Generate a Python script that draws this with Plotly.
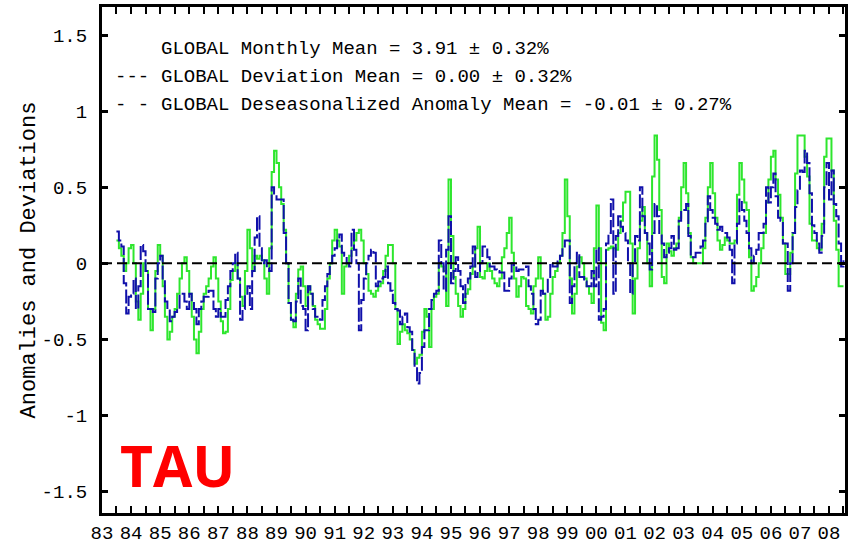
import pandas as pd
import plotly.graph_objects as go

# ---- data (monthly, Jul 1983 .. Jul 2008) ----
start_month = "1983-07-01"

g1983 = [0.15, 0.10, 0.05, -0.05, 0.00, 0.10]
g1984 = [0.12, 0.00, -0.25, -0.37, -0.20, 0.00, -0.05, -0.30, -0.44, -0.30, -0.05, 0.12]
g1985 = [0.05, -0.15, -0.35, -0.50, -0.45, -0.35, -0.30, -0.20, -0.10, 0.00, 0.04, -0.05]
g1986 = [-0.20, -0.35, -0.50, -0.59, -0.45, -0.30, -0.20, -0.15, -0.10, -0.02, 0.04, -0.10]
g1987 = [-0.25, -0.38, -0.46, -0.45, -0.30, -0.11, -0.05, 0.00, -0.10, -0.22, -0.28, -0.05]
g1988 = [0.22, 0.10, -0.05, 0.05, 0.03, 0.05, 0.02, -0.10, -0.20, 0.10, 0.60, 0.74]
g1989 = [0.66, 0.50, 0.39, 0.22, 0.00, -0.26, -0.37, -0.42, -0.20, -0.04, -0.02, -0.15]
g1990 = [-0.28, -0.15, -0.20, -0.28, -0.37, -0.40, -0.43, -0.43, -0.30, -0.10, 0.00, 0.15]
g1991 = [0.22, 0.15, 0.11, -0.20, -0.02, 0.00, 0.05, 0.10, 0.15, 0.20, 0.22, 0.15]
g1992 = [0.00, -0.07, -0.18, -0.20, -0.22, -0.18, -0.15, -0.13, -0.05, 0.05, 0.12, 0.12]
g1993 = [0.00, -0.30, -0.53, -0.45, -0.40, -0.44, -0.46, -0.50, -0.57, -0.66, -0.62, -0.60]
g1994 = [-0.45, -0.30, -0.35, -0.55, -0.30, -0.22, -0.20, 0.00, -0.02, -0.05, -0.28, 0.55]
g1995 = [0.18, -0.09, -0.20, -0.28, -0.35, -0.30, -0.20, -0.17, -0.07, -0.02, 0.10, 0.24]
g1996 = [-0.09, -0.10, -0.05, 0.00, -0.05, -0.10, -0.13, -0.15, -0.10, 0.04, 0.10, 0.20]
g1997 = [0.30, 0.07, -0.10, -0.22, -0.15, -0.09, -0.10, -0.28, -0.30, -0.33, -0.15, -0.10]
g1998 = [0.04, -0.10, -0.20, -0.37, -0.35, -0.20, -0.09, -0.05, 0.00, 0.05, 0.20, 0.55]
g1999 = [0.31, -0.10, -0.33, -0.20, -0.02, 0.04, 0.00, -0.10, -0.15, -0.20, -0.26, 0.10]
g2000 = [0.38, 0.10, -0.39, -0.44, 0.09, 0.10, 0.11, 0.10, 0.09, 0.20, 0.28, 0.40]
g2001 = [0.47, 0.47, 0.13, -0.33, -0.10, 0.10, 0.28, 0.37, 0.20, 0.00, -0.15, 0.57]
g2002 = [0.84, 0.68, 0.35, -0.09, -0.13, 0.13, 0.08, 0.05, 0.10, 0.13, 0.30, 0.50]
g2003 = [0.66, 0.46, 0.20, 0.04, 0.00, 0.00, 0.00, 0.00, 0.10, 0.30, 0.50, 0.66]
g2004 = [0.46, 0.30, 0.15, 0.09, 0.12, 0.17, 0.15, 0.13, 0.13, 0.15, 0.45, 0.66]
g2005 = [0.55, 0.40, 0.35, 0.04, -0.18, -0.15, -0.09, 0.00, 0.10, 0.20, 0.40, 0.55]
g2006 = [0.70, 0.74, 0.55, 0.45, 0.30, 0.13, -0.07, -0.07, 0.07, 0.20, 0.59, 0.84]
g2007 = [0.84, 0.84, 0.70, 0.57, 0.26, 0.15, 0.15, 0.10, 0.09, 0.26, 0.70, 0.82]
g2008 = [0.82, 0.61, 0.28, 0.09, -0.15, -0.15, -0.15]

b1983 = [0.21, 0.15, 0.11, -0.13, -0.33, -0.22]
b1984 = [-0.20, -0.10, -0.30, -0.15, 0.12, 0.08, -0.05, -0.30, -0.30, -0.32, -0.10, 0.00]
b1985 = [0.05, -0.10, -0.25, -0.30, -0.38, -0.35, -0.32, -0.30, -0.20, -0.20, -0.25, -0.30]
b1986 = [-0.20, -0.25, -0.30, -0.40, -0.30, -0.25, -0.22, -0.22, -0.18, -0.18, -0.30, -0.35]
b1987 = [-0.30, -0.35, -0.35, -0.24, -0.15, -0.05, 0.00, 0.07, -0.10, -0.37, -0.30, -0.20]
b1988 = [-0.15, -0.30, -0.05, 0.17, 0.31, 0.10, 0.00, 0.02, -0.03, -0.05, 0.50, 0.45]
b1989 = [0.42, 0.42, 0.42, 0.20, 0.00, -0.26, -0.37, -0.38, -0.25, -0.10, -0.28, -0.30]
b1990 = [-0.44, -0.15, -0.20, -0.30, -0.35, -0.35, -0.37, -0.24, -0.15, -0.07, 0.00, 0.05]
b1991 = [0.10, 0.15, 0.19, 0.07, 0.05, 0.00, -0.02, 0.22, 0.09, 0.00, -0.44, -0.24]
b1992 = [-0.10, 0.00, 0.05, 0.09, 0.07, -0.15, -0.12, -0.10, -0.09, -0.02, -0.13, -0.18]
b1993 = [-0.26, -0.30, -0.31, -0.40, -0.35, -0.33, -0.42, -0.45, -0.57, -0.68, -0.79, -0.72]
b1994 = [-0.55, -0.44, -0.44, -0.30, -0.24, -0.20, -0.18, 0.15, 0.00, -0.18, 0.09, 0.31]
b1995 = [-0.13, -0.05, 0.04, -0.05, -0.15, -0.26, -0.13, -0.10, -0.02, 0.11, -0.09, -0.05]
b1996 = [0.00, 0.11, 0.11, 0.04, -0.02, -0.02, -0.04, -0.05, -0.06, -0.06, -0.18, -0.18]
b1997 = [-0.10, 0.00, -0.02, -0.05, -0.04, -0.04, -0.04, -0.02, -0.15, -0.20, -0.30, -0.40]
b1998 = [-0.37, -0.18, -0.20, -0.20, -0.10, 0.00, -0.02, -0.02, 0.02, 0.05, 0.11, 0.15]
b1999 = [0.15, -0.26, -0.15, 0.00, 0.07, -0.09, -0.09, -0.12, -0.15, -0.15, -0.05, -0.15]
b2000 = [0.10, -0.37, -0.35, -0.30, 0.13, 0.20, 0.42, -0.20, 0.18, 0.31, 0.24, 0.20]
b2001 = [0.15, 0.00, -0.20, 0.00, 0.18, 0.15, 0.50, 0.31, 0.20, 0.13, -0.04, 0.20]
b2002 = [0.39, 0.31, 0.20, 0.13, 0.04, 0.07, 0.10, 0.18, 0.09, 0.10, 0.28, 0.35]
b2003 = [0.35, 0.39, 0.18, 0.04, 0.04, 0.07, 0.07, 0.11, 0.15, 0.26, 0.44, 0.35]
b2004 = [0.30, 0.26, 0.22, 0.24, 0.20, 0.20, 0.17, 0.09, -0.13, 0.13, 0.26, 0.42]
b2005 = [0.35, 0.28, 0.20, 0.10, 0.00, 0.05, 0.09, 0.20, 0.20, 0.26, 0.50, 0.40]
b2006 = [0.50, 0.59, 0.44, 0.30, 0.28, 0.13, 0.13, -0.18, 0.00, 0.20, 0.37, 0.48]
b2007 = [0.61, 0.60, 0.74, 0.66, 0.46, 0.25, 0.20, 0.13, 0.07, 0.18, 0.50, 0.66]
b2008 = [0.42, 0.61, 0.39, 0.31, 0.13, -0.02, 0.02]

deviation = (g1983 + g1984 + g1985 + g1986 + g1987 + g1988 + g1989 + g1990 + g1991
             + g1992 + g1993 + g1994 + g1995 + g1996 + g1997 + g1998 + g1999 + g2000
             + g2001 + g2002 + g2003 + g2004 + g2005 + g2006 + g2007 + g2008)
deseasonalized = (b1983 + b1984 + b1985 + b1986 + b1987 + b1988 + b1989 + b1990 + b1991
                  + b1992 + b1993 + b1994 + b1995 + b1996 + b1997 + b1998 + b1999 + b2000
                  + b2001 + b2002 + b2003 + b2004 + b2005 + b2006 + b2007 + b2008)

months = pd.date_range(start_month, periods=len(deviation), freq="MS")

legend_lines = [
    "GLOBAL Monthly Mean = 3.91 ± 0.32%",
    "GLOBAL Deviation Mean = 0.00 ± 0.32%",
    "GLOBAL Deseasonalized Anomaly Mean = -0.01 ± 0.27%",
]
legend_marks = ["", "---", "- -"]
y_tickvals = [-1.5, -1, -0.5, 0, 0.5, 1, 1.5]
y_ticktext = ["-1.5", "-1", "-0.5", "0", "0.5", "1", "1.5"]
x_range = ["1983-01-01", "2008-07-20"]
y_range = [-1.64, 1.684]
zero_level = 0

MONO = "Liberation Mono"

fig = go.Figure()
fig.add_trace(go.Scatter(
    x=months, y=deviation, mode="lines", line=dict(color="#2ee62e", width=2, shape="hv"),
    name="GLOBAL Deviation", showlegend=False, hoverinfo="skip"))
fig.add_trace(go.Scatter(
    x=months, y=deseasonalized, mode="lines",
    line=dict(color="#1010aa", width=2, shape="hv", dash="14px,3px"),
    name="GLOBAL Deseasonalized Anomaly", showlegend=False, hoverinfo="skip"))

fig.add_hline(y=zero_level, line=dict(color="black", width=2, dash="10px,5px"))

line_y = [0.917, 0.862, 0.806]
for txt, mark, yy in zip(legend_lines, legend_marks, line_y):
    fig.add_annotation(x=0.077, y=yy, xref="paper", yref="paper", text=txt, showarrow=False,
                       xanchor="left", yanchor="middle", font=dict(family=MONO, size=19, color="black"))
    if mark:
        fig.add_annotation(x=0.0154, y=yy, xref="paper", yref="paper", text=mark, showarrow=False,
                           xanchor="left", yanchor="middle", font=dict(family=MONO, size=19, color="black"))

fig.add_annotation(x=0.1014, y=0.095, xref="paper", yref="paper", text="<b>TAU</b>", showarrow=False,
                   xanchor="center", yanchor="middle",
                   font=dict(family="Open Sans", size=57, color="#ff0000"))

fig.update_xaxes(
    type="date", range=x_range, tick0="1983-01-01", dtick="M12", tickformat="%y",
    ticks="inside", ticklen=7, tickwidth=2, tickcolor="black",
    minor=dict(ticks="inside", dtick="M6", tick0="1983-01-01", ticklen=7, tickwidth=2, tickcolor="black"),
    showline=True, linewidth=3, linecolor="black", mirror="ticks",
    showgrid=False, zeroline=False,
    tickfont=dict(family=MONO, size=19, color="black"),
)
fig.update_yaxes(
    range=y_range, tickvals=y_tickvals, ticktext=y_ticktext,
    ticks="inside", ticklen=6, tickwidth=3, tickcolor="black",
    showline=True, linewidth=3, linecolor="black", mirror="ticks",
    showgrid=False, zeroline=False, ticklabelstandoff=8,
    tickfont=dict(family=MONO, size=19, color="black"),
    title=dict(text="Anomalies and Deviations", standoff=0, font=dict(family=MONO, size=22, color="black")),
)
fig.update_layout(
    width=857, height=550, autosize=False,
    margin=dict(l=102, r=12, t=7, b=37, autoexpand=False),
    paper_bgcolor="white", plot_bgcolor="white",
    showlegend=False,
)
fig.write_html("out.html", config={"displayModeBar": False},
               post_script="document.body.style.margin='0px';document.body.style.overflow='hidden';")
